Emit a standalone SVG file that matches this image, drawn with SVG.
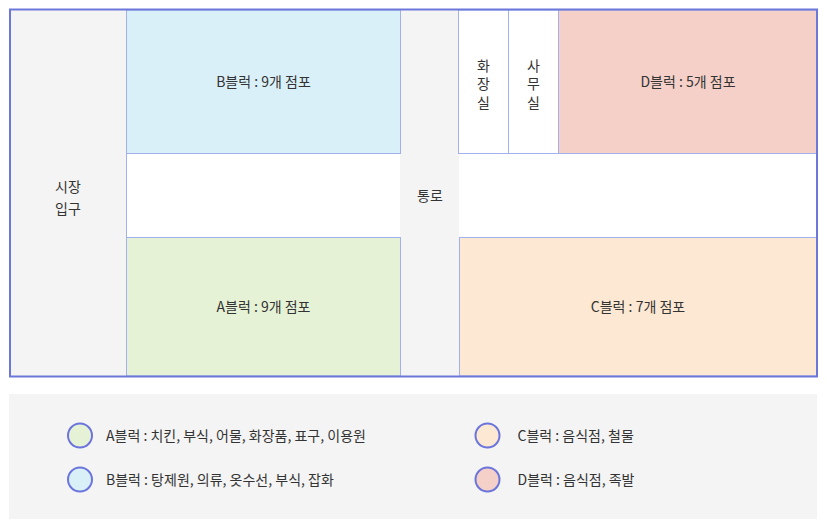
<svg xmlns="http://www.w3.org/2000/svg" width="827" height="532" viewBox="0 0 827 532">
<style>
  text { font-family: "Noto Sans CJK KR", "Noto Sans", sans-serif; font-size: 14px; fill: #333333; }
  .c { text-anchor: middle; }
  .cell { stroke: #a3b0ee; stroke-width: 1; }
  .leg { stroke: #6b74dc; stroke-width: 2; }
</style>
<rect x="0" y="0" width="827" height="532" fill="#ffffff"/>
<g id="floor">
  <rect x="10" y="10" width="806" height="366" fill="#f4f4f4"/>
</g>
<g id="entrance">
  <line x1="126.5" y1="10" x2="126.5" y2="376" class="cell"/>
  <text x="68" y="192" class="c">시장</text>
  <text x="68" y="214" class="c">입구</text>
</g>
<g id="block-b">
  <rect x="126.5" y="10" width="274" height="143.5" fill="#daf0f9" class="cell"/>
  <text x="263.5" y="86.5" class="c">B블럭 : 9개 점포</text>
</g>
<g id="mid-left">
  <rect x="127" y="154" width="273" height="83" fill="#ffffff"/>
</g>
<g id="block-a">
  <rect x="126.5" y="237.5" width="274" height="138.5" fill="#e6f2d6" class="cell"/>
  <text x="263.5" y="312" class="c">A블럭 : 9개 점포</text>
</g>
<g id="passage">
  <text x="430" y="201" class="c">통로</text>
</g>
<g id="toilet">
  <rect x="458.5" y="10" width="50" height="143.5" fill="#ffffff" class="cell"/>
  <text x="483.5" y="70.5" class="c">화</text>
  <text x="483.5" y="89" class="c">장</text>
  <text x="483.5" y="107.5" class="c">실</text>
</g>
<g id="office">
  <rect x="508.5" y="10" width="50" height="143.5" fill="#ffffff" class="cell"/>
  <text x="533.5" y="70.5" class="c">사</text>
  <text x="533.5" y="89" class="c">무</text>
  <text x="533.5" y="107.5" class="c">실</text>
</g>
<g id="block-d">
  <rect x="558.5" y="10" width="258" height="143.5" fill="#f5d0c8" class="cell"/>
  <text x="688" y="86.5" class="c">D블럭 : 5개 점포</text>
</g>
<g id="mid-right">
  <rect x="459" y="154" width="357" height="83" fill="#ffffff"/>
</g>
<g id="block-c">
  <rect x="459.5" y="237.5" width="357" height="138.5" fill="#fde9d3" class="cell"/>
  <text x="638" y="312" class="c">C블럭 : 7개 점포</text>
</g>
<g id="outer">
  <rect x="10" y="9.5" width="807" height="367" fill="none" stroke="#6c78d9" stroke-width="2"/>
</g>
<g id="legend">
  <rect x="9" y="394" width="808" height="125" fill="#f4f4f4"/>
  <circle cx="80" cy="435.5" r="12" fill="#e6f2d6" class="leg"/>
  <text x="106" y="440.5">A블럭 : 치킨, 부식, 어물, 화장품, 표구, 이용원</text>
  <circle cx="80" cy="479.5" r="12" fill="#daf0f9" class="leg"/>
  <text x="106" y="484.5">B블럭 : 탕제원, 의류, 옷수선, 부식, 잡화</text>
  <circle cx="487.5" cy="435.5" r="12" fill="#fde9d3" class="leg"/>
  <text x="517.5" y="440.5">C블럭 : 음식점, 철물</text>
  <circle cx="487.5" cy="479.5" r="12" fill="#f5d0c8" class="leg"/>
  <text x="517.5" y="484.5">D블럭 : 음식점, 족발</text>
</g>
<g id="connectors"></g>
</svg>
